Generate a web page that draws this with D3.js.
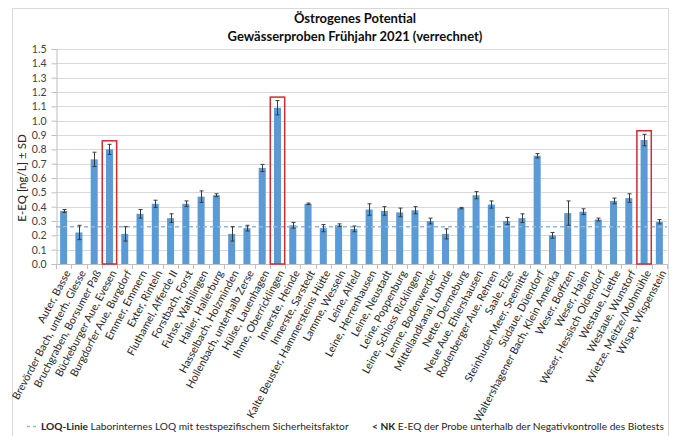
<!DOCTYPE html>
<html>
<head>
<meta charset="utf-8">
<script src="https://cdn.jsdelivr.net/npm/d3@7"></script>
<style>
  html, body { margin: 0; padding: 0; background: #fff; }
  svg { display: block; font-family: Lato, "Open Sans", sans-serif; }
</style>
</head>
<body>
<svg id="chart" width="681" height="436"></svg>
<script>
// Sampling sites (spring 2021)
const categories = [
  "Auter, Basse", "Brevörder Bach, unterh. Glesse", "Bruchgraben, Borsumer Paß",
  "Bückeburger Aue, Evesen", "Burgdorfer Aue, Burgdorf", "Emmer, Emmern",
  "Exter, Rinteln", "Fluthamel, Afferde II", "Forstbach, Forst",
  "Fuhse, Wathlingen", "Haller, Hallerburg", "Hasselbach, Holzminden",
  "Hollenbach, unterhalb Zerse", "Hülse, Lauenhagen", "Ihme, Oberricklingen",
  "Innerste, Heinde", "Innerste, Sarstedt", "Kalte Beuster, Hammersteins Hütte",
  "Lamme, Wesseln", "Leine, Alfeld", "Leine, Herrenhausen", "Leine, Neustadt",
  "Leine, Poppenburg", "Leine, Schloss Ricklingen", "Lenne, Bodenwerder",
  "Mittellandkanal, Lohnde", "Nette, Dermeburg", "Neue Aue, Ehlershausen",
  "Rodenberger Aue, Rehren", "Saale, Elze", "Steinhuder Meer, Seemitte",
  "Südaue, Düendorf", "Waltershagener Bach, Klein Amerika", "Weser, Boffzen",
  "Weser, Hajen", "Weser, Hessisch Oldendorf", "Westaue, Liethe",
  "Westaue, Wunstorf", "Wietze, Meitze/Mohmühle", "Wispe, Wispenstein"
];

// Estrogenic equivalents, E-EQ in ng/L
const eeq = [
  0.37, 0.22, 0.73, 0.80, 0.21, 0.35, 0.42, 0.32, 0.42, 0.47,
  0.48, 0.21, 0.25, 0.67, 1.09, 0.27, 0.42, 0.25, 0.27, 0.245,
  0.38, 0.37, 0.36, 0.375, 0.30, 0.21, 0.39, 0.48, 0.415, 0.30,
  0.32, 0.755, 0.20, 0.355, 0.365, 0.31, 0.44, 0.46, 0.865, 0.295
];

// Standard deviation per sample
const sd = [
  0.01, 0.05, 0.05, 0.035, 0.05, 0.03, 0.025, 0.03, 0.02, 0.04,
  0.01, 0.05, 0.02, 0.025, 0.05, 0.02, 0.005, 0.025, 0.01, 0.02,
  0.04, 0.03, 0.03, 0.025, 0.02, 0.035, 0.005, 0.025, 0.025, 0.025,
  0.03, 0.015, 0.02, 0.085, 0.02, 0.01, 0.02, 0.03, 0.04, 0.015
];

// Sites marked with a red frame
const highlighted = ["Bückeburger Aue, Evesen", "Ihme, Oberricklingen", "Wietze, Meitze/Mohmühle"];

// Lab-internal limit of quantification
const loq = 0.26;

const yTicks = [0.0, 0.1, 0.2, 0.3, 0.4, 0.5, 0.6, 0.7, 0.8, 0.9, 1.0, 1.1, 1.2, 1.3, 1.4, 1.5];

const titleLines = ["Östrogenes Potential", "Gewässerproben Frühjahr 2021 (verrechnet)"];
const yTitle = "E-EQ [ng/L] ± SD";

const svg = d3.select("#chart");
const plot = { left: 56, right: 667, top: 49, bottom: 264 };

// Outer chart frame
svg.append("rect")
  .attr("x", 12.5).attr("y", 8.5)
  .attr("width", 656).attr("height", 440)
  .attr("fill", "none").attr("stroke", "#d9d9d9").attr("stroke-width", 1);

const x = d3.scaleBand()
  .domain(categories)
  .range([plot.left, plot.right])
  .paddingInner(0.54)
  .paddingOuter(0.27);

const y = d3.scaleLinear().domain([0, 1.5]).range([plot.bottom, plot.top]);

// Horizontal gridlines
svg.append("g")
  .selectAll("line")
  .data(yTicks.filter(d => d > 0))
  .join("line")
  .attr("x1", plot.left).attr("x2", plot.right)
  .attr("y1", d => Math.round(y(d)) + 0.5).attr("y2", d => Math.round(y(d)) + 0.5)
  .attr("stroke", "#d9d9d9").attr("stroke-width", 1);

// Y axis
const yAxis = d3.axisLeft(y)
  .tickValues(yTicks)
  .tickFormat(d3.format(".1f"))
  .tickSize(5)
  .tickPadding(5);
const gy = svg.append("g")
  .attr("transform", `translate(${plot.left + 0.5},0)`)
  .call(yAxis);
gy.select(".domain").attr("stroke", "#bfbfbf");
gy.selectAll(".tick line").attr("stroke", "#bfbfbf");
gy.selectAll(".tick text")
  .attr("fill", "#404040")
  .style("font-size", "10.5px")
  .style("font-family", "Lato, sans-serif");

// X axis with ticks between the categories
const step = x.step();
const boundaries = d3.range(categories.length + 1).map(i => plot.left + i * step);
svg.append("line")
  .attr("x1", plot.left).attr("x2", plot.right)
  .attr("y1", plot.bottom + 0.5).attr("y2", plot.bottom + 0.5)
  .attr("stroke", "#bfbfbf");
svg.append("g")
  .selectAll("line")
  .data(boundaries)
  .join("line")
  .attr("x1", d => Math.round(d) + 0.5).attr("x2", d => Math.round(d) + 0.5)
  .attr("y1", plot.bottom).attr("y2", plot.bottom + 5)
  .attr("stroke", "#bfbfbf");

// Bars
svg.append("g")
  .selectAll("rect")
  .data(categories)
  .join("rect")
  .attr("x", d => x(d))
  .attr("width", x.bandwidth())
  .attr("y", (d, i) => y(eeq[i]))
  .attr("height", (d, i) => y(0) - y(eeq[i]))
  .attr("fill", "#5b9bd5");

// LOQ line
svg.append("line")
  .attr("x1", plot.left).attr("x2", plot.right)
  .attr("y1", y(loq)).attr("y2", y(loq))
  .attr("stroke", "#8db8e3").attr("stroke-width", 1.5)
  .attr("stroke-dasharray", "4,3");

// Error bars (± SD)
const eb = svg.append("g").attr("stroke", "#3a3a3a").attr("stroke-width", 1);
categories.forEach((c, i) => {
  const cx = Math.round(x(c) + x.bandwidth() / 2) + 0.5;
  const y1 = y(eeq[i] + sd[i]);
  const y2 = y(eeq[i] - sd[i]);
  eb.append("line").attr("x1", cx).attr("x2", cx).attr("y1", y1).attr("y2", y2);
  eb.append("line").attr("x1", cx - 2).attr("x2", cx + 2).attr("y1", y1).attr("y2", y1);
  eb.append("line").attr("x1", cx - 2).attr("x2", cx + 2).attr("y1", y2).attr("y2", y2);
});

// Red frames around selected sites
svg.append("g")
  .selectAll("rect")
  .data(highlighted)
  .join("rect")
  .attr("x", d => x(d) + x.bandwidth() / 2 - 7.2)
  .attr("width", 14.4)
  .attr("y", d => { const i = categories.indexOf(d); return y(eeq[i] + sd[i]) - 3.5; })
  .attr("height", d => { const i = categories.indexOf(d); return y(0) - (y(eeq[i] + sd[i]) - 3.5); })
  .attr("fill", "none")
  .attr("stroke", "#d12b2b")
  .attr("stroke-width", 1.5);

// Category labels
svg.append("g")
  .selectAll("text")
  .data(categories)
  .join("text")
  .attr("transform", d => `translate(${x(d) + x.bandwidth() / 2 + 4},${plot.bottom + 7}) rotate(-62)`)
  .attr("text-anchor", "end")
  .attr("dy", "0.35em")
  .attr("fill", "#262626")
  .style("font-size", "10.7px")
  .text(d => d);

// Title
svg.append("g")
  .selectAll("text")
  .data(titleLines)
  .join("text")
  .attr("x", 355)
  .attr("y", (d, i) => 23 + i * 18)
  .attr("text-anchor", "middle")
  .attr("fill", "#0d0d0d")
  .style("font-size", "13px")
  .style("font-weight", "bold")
  .text(d => d);

// Y axis title
svg.append("text")
  .attr("transform", `translate(22,${178}) rotate(-90)`)
  .attr("text-anchor", "middle")
  .attr("dy", "0.35em")
  .attr("fill", "#262626")
  .style("font-size", "11.5px")
  .text(yTitle);

// Legend
const leg = svg.append("g").style("font-size", "10.2px").attr("fill", "#262626");
leg.append("line")
  .attr("x1", 27).attr("x2", 38).attr("y1", 426.5).attr("y2", 426.5)
  .attr("stroke", "#8db8e3").attr("stroke-width", 1.5).attr("stroke-dasharray", "3,3");
const t1 = leg.append("text").attr("x", 41).attr("y", 430);
t1.append("tspan").style("font-weight", "bold").text("LOQ-Linie");
t1.append("tspan").text(" Laborinternes LOQ mit testspezifischem Sicherheitsfaktor");
const t2 = leg.append("text").attr("x", 372).attr("y", 430);
t2.append("tspan").style("font-weight", "bold").text("< NK");
t2.append("tspan").text(" E-EQ der Probe unterhalb der Negativkontrolle des Biotests");
</script>
</body>
</html>
